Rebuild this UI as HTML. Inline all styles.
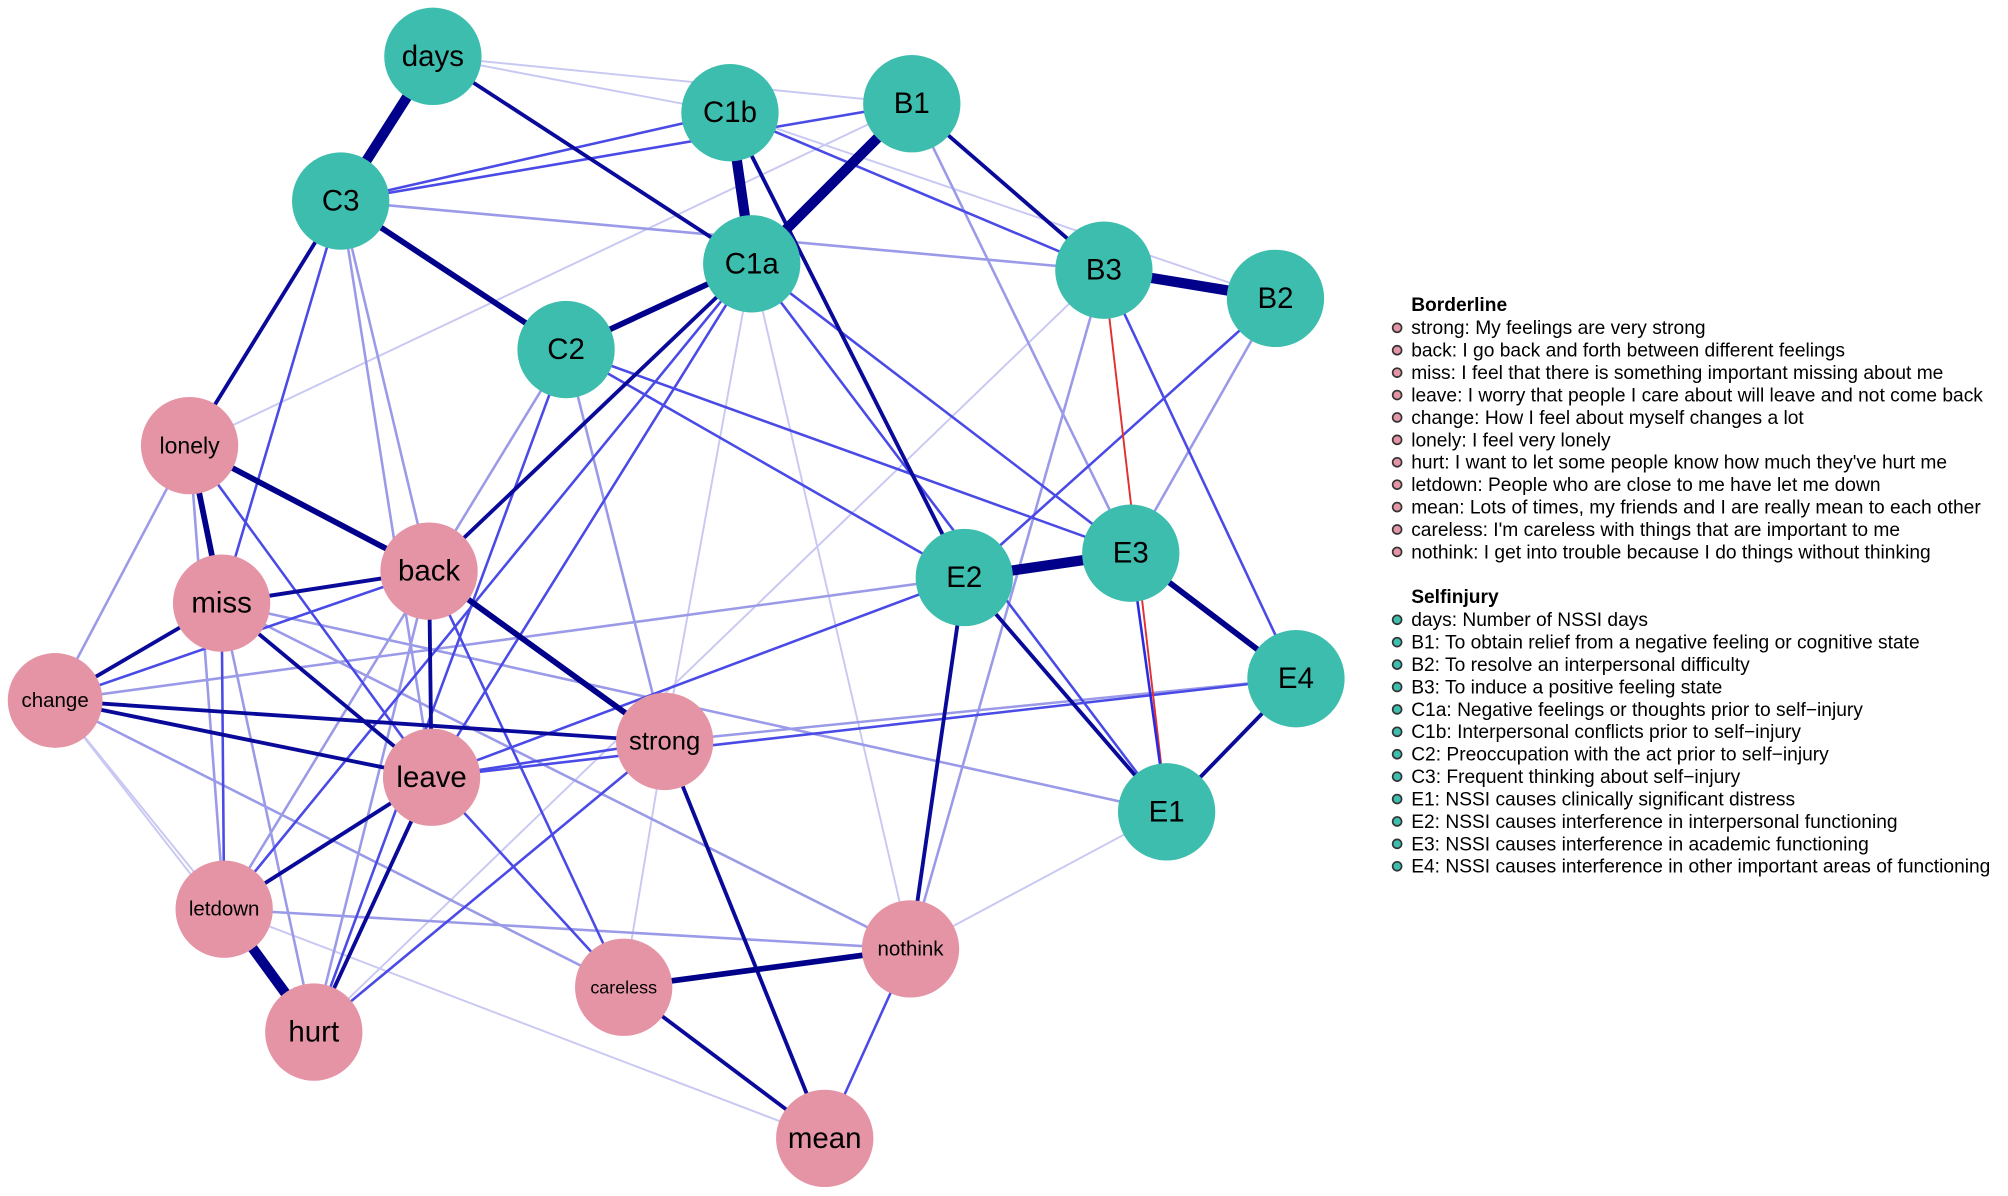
<!DOCTYPE html>
<html><head><meta charset="utf-8"><style>
html,body{margin:0;padding:0;background:#fff;}
svg{display:block;}
text{font-family:"Liberation Sans",sans-serif;}
</style></head><body>
<svg width="2008" height="1196" viewBox="0 0 1568 934" xmlns="http://www.w3.org/2000/svg">
<g fill="none" stroke-linecap="round">
<g stroke="#c8c8f2" stroke-width="1.5">
<line x1="338" y1="44" x2="712" y2="81"/><line x1="338" y1="44" x2="570" y2="88"/>
<line x1="570" y1="88" x2="996" y2="233"/><line x1="148" y1="348" x2="712" y2="81"/>
<line x1="43" y1="547" x2="175" y2="710"/><line x1="519" y1="579" x2="487" y2="771"/>
<line x1="711" y1="741" x2="911" y2="634"/><line x1="175" y1="710" x2="644" y2="889"/>
<line x1="587" y1="206" x2="519" y2="579"/><line x1="753" y1="451" x2="996" y2="233"/>
<line x1="245" y1="806" x2="862" y2="211"/><line x1="711" y1="741" x2="587" y2="206"/>
<line x1="245" y1="806" x2="43" y2="547"/>
</g>
<g stroke="#9a9ae8" stroke-width="2">
<line x1="266" y1="157" x2="335" y2="446"/><line x1="266" y1="157" x2="337" y2="607"/>
<line x1="996" y1="233" x2="883" y2="432"/><line x1="148" y1="348" x2="175" y2="710"/>
<line x1="148" y1="348" x2="43" y2="547"/><line x1="43" y1="547" x2="487" y2="771"/>
<line x1="173" y1="471" x2="245" y2="806"/><line x1="173" y1="471" x2="711" y2="741"/>
<line x1="173" y1="471" x2="911" y2="634"/><line x1="711" y1="741" x2="175" y2="710"/>
<line x1="711" y1="741" x2="862" y2="211"/><line x1="175" y1="710" x2="442" y2="273"/>
<line x1="712" y1="81" x2="883" y2="432"/><line x1="335" y1="446" x2="245" y2="806"/>
<line x1="442" y1="273" x2="519" y2="579"/><line x1="266" y1="157" x2="862" y2="211"/>
<line x1="519" y1="579" x2="1012" y2="530"/><line x1="753" y1="451" x2="43" y2="547"/>
</g>
<g stroke="#4a4ae6" stroke-width="2">
<line x1="570" y1="88" x2="862" y2="211"/><line x1="266" y1="157" x2="570" y2="88"/>
<line x1="266" y1="157" x2="173" y2="471"/><line x1="442" y1="273" x2="753" y2="451"/>
<line x1="442" y1="273" x2="883" y2="432"/><line x1="587" y1="206" x2="883" y2="432"/>
<line x1="587" y1="206" x2="911" y2="634"/><line x1="862" y1="211" x2="1012" y2="530"/>
<line x1="996" y1="233" x2="753" y2="451"/><line x1="587" y1="206" x2="337" y2="607"/>
<line x1="587" y1="206" x2="175" y2="710"/><line x1="148" y1="348" x2="337" y2="607"/>
<line x1="335" y1="446" x2="487" y2="771"/><line x1="335" y1="446" x2="43" y2="547"/>
<line x1="173" y1="471" x2="175" y2="710"/><line x1="337" y1="607" x2="519" y2="579"/>
<line x1="337" y1="607" x2="487" y2="771"/><line x1="337" y1="607" x2="1012" y2="530"/>
<line x1="519" y1="579" x2="245" y2="806"/><line x1="711" y1="741" x2="644" y2="889"/>
<line x1="245" y1="806" x2="442" y2="273"/><line x1="753" y1="451" x2="337" y2="607"/>
<line x1="712" y1="81" x2="266" y2="157"/>
</g>
<g stroke="#0a0a9a" stroke-width="3">
<line x1="338" y1="44" x2="587" y2="206"/><line x1="712" y1="81" x2="862" y2="211"/>
<line x1="570" y1="88" x2="753" y2="451"/><line x1="266" y1="157" x2="148" y2="348"/>
<line x1="587" y1="206" x2="335" y2="446"/><line x1="1012" y1="530" x2="911" y2="634"/>
<line x1="753" y1="451" x2="911" y2="634"/><line x1="753" y1="451" x2="711" y2="741"/>
<line x1="335" y1="446" x2="173" y2="471"/><line x1="335" y1="446" x2="337" y2="607"/>
<line x1="173" y1="471" x2="43" y2="547"/><line x1="173" y1="471" x2="337" y2="607"/>
<line x1="43" y1="547" x2="337" y2="607"/><line x1="43" y1="547" x2="519" y2="579"/>
<line x1="337" y1="607" x2="175" y2="710"/><line x1="337" y1="607" x2="245" y2="806"/>
<line x1="519" y1="579" x2="644" y2="889"/><line x1="487" y1="771" x2="644" y2="889"/>
</g>
<g stroke="#00008b" stroke-width="4.5">
<line x1="266" y1="157" x2="442" y2="273"/><line x1="442" y1="273" x2="587" y2="206"/>
<line x1="148" y1="348" x2="335" y2="446"/><line x1="148" y1="348" x2="173" y2="471"/>
<line x1="335" y1="446" x2="519" y2="579"/><line x1="883" y1="432" x2="1012" y2="530"/>
<line x1="487" y1="771" x2="711" y2="741"/>
</g>
<g stroke="#00008b" stroke-width="8">
<line x1="338" y1="44" x2="266" y2="157"/><line x1="570" y1="88" x2="587" y2="206"/>
<line x1="712" y1="81" x2="587" y2="206"/><line x1="862" y1="211" x2="996" y2="233"/>
<line x1="753" y1="451" x2="883" y2="432"/><line x1="175" y1="710" x2="245" y2="806"/>
</g>
<line x1="862" y1="211" x2="911" y2="634" stroke="#e03030" stroke-width="1.5"/>
<line x1="883" y1="432" x2="911" y2="634" stroke="#2a2ae0" stroke-width="2"/>
</g>
<g fill="#3dbdae">
<circle cx="338" cy="44" r="38"/><circle cx="570" cy="88" r="38"/><circle cx="712" cy="81" r="38"/>
<circle cx="266" cy="157" r="38"/><circle cx="587" cy="206" r="38"/><circle cx="862" cy="211" r="38"/>
<circle cx="996" cy="233" r="38"/><circle cx="442" cy="273" r="38"/><circle cx="753" cy="451" r="38"/>
<circle cx="883" cy="432" r="38"/><circle cx="1012" cy="530" r="38"/><circle cx="911" cy="634" r="38"/>
</g>
<g fill="#e594a6">
<circle cx="148" cy="348" r="38"/><circle cx="335" cy="446" r="38"/><circle cx="173" cy="471" r="38"/>
<circle cx="43" cy="547" r="37"/><circle cx="519" cy="579" r="38"/><circle cx="337" cy="607" r="38"/>
<circle cx="175" cy="710" r="38"/><circle cx="487" cy="771" r="38"/><circle cx="711" cy="741" r="38"/>
<circle cx="245" cy="806" r="38"/><circle cx="644" cy="889" r="38"/>
</g>
<g text-anchor="middle" dominant-baseline="central" fill="#000">
<text x="338" y="44" font-size="23">days</text><text x="570" y="88" font-size="23">C1b</text>
<text x="712" y="81" font-size="23">B1</text><text x="266" y="157" font-size="23">C3</text>
<text x="587" y="206" font-size="23">C1a</text><text x="862" y="211" font-size="23">B3</text>
<text x="996" y="233" font-size="23">B2</text><text x="442" y="273" font-size="23">C2</text>
<text x="753" y="451" font-size="23">E2</text><text x="883" y="432" font-size="23">E3</text>
<text x="1012" y="530" font-size="23">E4</text><text x="911" y="634" font-size="23">E1</text>
<text x="148" y="348" font-size="18">lonely</text><text x="335" y="446" font-size="23">back</text>
<text x="173" y="471" font-size="23">miss</text><text x="43" y="547" font-size="16">change</text>
<text x="519" y="579" font-size="20">strong</text><text x="337" y="607" font-size="23">leave</text>
<text x="175" y="710" font-size="16">letdown</text><text x="487" y="771" font-size="14">careless</text>
<text x="711" y="741" font-size="16">nothink</text><text x="245" y="806" font-size="23">hurt</text>
<text x="644" y="889" font-size="23">mean</text>
</g>
<g font-size="15" fill="#000">
<text x="1102" y="243" font-weight="bold">Borderline</text>
<text x="1102" y="261">strong: My feelings are very strong</text>
<text x="1102" y="278.5">back: I go back and forth between different feelings</text>
<text x="1102" y="296">miss: I feel that there is something important missing about me</text>
<text x="1102" y="313.5">leave: I worry that people I care about will leave and not come back</text>
<text x="1102" y="331">change: How I feel about myself changes a lot</text>
<text x="1102" y="348.5">lonely: I feel very lonely</text>
<text x="1102" y="366">hurt: I want to let some people know how much they've hurt me</text>
<text x="1102" y="383.5">letdown: People who are close to me have let me down</text>
<text x="1102" y="401">mean: Lots of times, my friends and I are really mean to each other</text>
<text x="1102" y="418.5">careless: I'm careless with things that are important to me</text>
<text x="1102" y="436">nothink: I get into trouble because I do things without thinking</text>
<text x="1102" y="471" font-weight="bold">Selfinjury</text>
<text x="1102" y="489">days: Number of NSSI days</text>
<text x="1102" y="506.5">B1: To obtain relief from a negative feeling or cognitive state</text>
<text x="1102" y="524">B2: To resolve an interpersonal difficulty</text>
<text x="1102" y="541.5">B3: To induce a positive feeling state</text>
<text x="1102" y="559">C1a: Negative feelings or thoughts prior to self−injury</text>
<text x="1102" y="576.5">C1b: Interpersonal conflicts prior to self−injury</text>
<text x="1102" y="594">C2: Preoccupation with the act prior to self−injury</text>
<text x="1102" y="611.5">C3: Frequent thinking about self−injury</text>
<text x="1102" y="629">E1: NSSI causes clinically significant distress</text>
<text x="1102" y="646.5">E2: NSSI causes interference in interpersonal functioning</text>
<text x="1102" y="664">E3: NSSI causes interference in academic functioning</text>
<text x="1102" y="681.5">E4: NSSI causes interference in other important areas of functioning</text>
</g>
<g stroke="#333" stroke-width="1.3" fill="#e594a6">
<circle cx="1091" cy="256" r="3.5"/><circle cx="1091" cy="273.5" r="3.5"/><circle cx="1091" cy="291" r="3.5"/>
<circle cx="1091" cy="308.5" r="3.5"/><circle cx="1091" cy="326" r="3.5"/><circle cx="1091" cy="343.5" r="3.5"/>
<circle cx="1091" cy="361" r="3.5"/><circle cx="1091" cy="378.5" r="3.5"/><circle cx="1091" cy="396" r="3.5"/>
<circle cx="1091" cy="413.5" r="3.5"/><circle cx="1091" cy="431" r="3.5"/>
</g>
<g stroke="#333" stroke-width="1.3" fill="#3dbdae">
<circle cx="1091" cy="484" r="3.5"/><circle cx="1091" cy="501.5" r="3.5"/><circle cx="1091" cy="519" r="3.5"/>
<circle cx="1091" cy="536.5" r="3.5"/><circle cx="1091" cy="554" r="3.5"/><circle cx="1091" cy="571.5" r="3.5"/>
<circle cx="1091" cy="589" r="3.5"/><circle cx="1091" cy="606.5" r="3.5"/><circle cx="1091" cy="624" r="3.5"/>
<circle cx="1091" cy="641.5" r="3.5"/><circle cx="1091" cy="659" r="3.5"/><circle cx="1091" cy="676.5" r="3.5"/>
</g>
</svg>
</body></html>
